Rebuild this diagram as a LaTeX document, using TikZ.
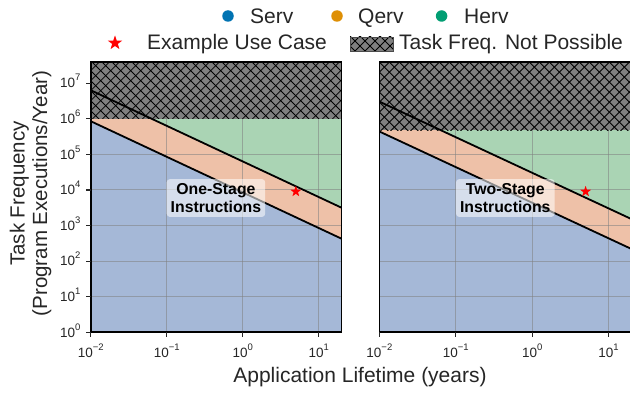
\documentclass[tikz,border=0pt]{standalone}
\usepackage{fontspec}
\setmainfont{Liberation Sans}
\usetikzlibrary{shapes.geometric}
\definecolor{fblue}{HTML}{A5B8D7}
\definecolor{forange}{HTML}{EEC1A8}
\definecolor{fgreen}{HTML}{AAD4B4}
\definecolor{cserv}{HTML}{0173B2}
\definecolor{cqerv}{HTML}{DE8F05}
\definecolor{cherv}{HTML}{029E73}
\definecolor{txt}{HTML}{262626}
\definecolor{hatchgray}{HTML}{808080}
\newcommand{\tenpow}[1]{10\raisebox{7pt}{\fontsize{9.5}{10}\selectfont #1}}
\tikzset{
  gridline/.style={line width=1pt, black!50, opacity=0.55},
  hatchline/.style={line width=0.8pt, black},
  framebox/.style={line width=1.8pt, black},
  boundline/.style={line width=1.8pt, black},
  tickmark/.style={line width=1.2pt, black!85},
  ticklab/.style={font=\fontsize{13.5}{15}\selectfont, text=txt, inner sep=0pt},
  lgtext/.style={font=\fontsize{21}{24}\selectfont, text=txt, inner sep=0pt, anchor=base west},
  lgdot/.style={circle, minimum size=11.5pt, inner sep=0pt, draw=none},
  starmark/.style={star, star points=5, star point ratio=2.5, fill=red, draw=none, inner sep=0pt},
  labelbox/.style={fill=white, fill opacity=0.55, text opacity=1, rounded corners=3pt,
    inner xsep=4pt, inner ysep=4pt, align=center,
    font=\bfseries\fontsize{15.8}{18.5}\selectfont, text=black},
}
% #1 xshift, #2 xscale, #3 upper intercept, #4 lower intercept, #5 hatch bottom, #6 label, #7 prefix
\newcommand{\drawpanel}[7]{%
\begin{scope}[shift={(#1,59.7)}, x=#2pt, y=35.6pt]
  \fill[fgreen] (0,0) rectangle (3.301,7.584);
  \fill[forange] (0,0) -- (0,#3) -- (3.301,{#3-3.301}) -- (3.301,0) -- cycle;
  \fill[fblue] (0,0) -- (0,#4) -- (3.301,{#4-3.301}) -- (3.301,0) -- cycle;
  \foreach \u in {1,2,3} \draw[gridline] (\u,0) -- (\u,7.584);
  \foreach \v in {1,...,7} \draw[gridline] (0,\v) -- (3.301,\v);
  \fill[hatchgray] (0,#5) rectangle (3.301,7.584);
  \begin{scope}
    \clip (0,#5) rectangle (3.301,7.584);
    \foreach \i in {-90,-80,...,350} {
      \draw[hatchline] (0,#5) ++(\i pt,-2pt) -- ++(80pt,80pt);
      \draw[hatchline] (0,#5) ++(\i pt,-2pt) -- ++(-80pt,80pt);
    }
  \end{scope}
  \coordinate (#7u0) at (0,#3);
  \coordinate (#7u1) at (3.301,{#3-3.301});
  \coordinate (#7l0) at (0,#4);
  \coordinate (#7l1) at (3.301,{#4-3.301});
  \draw[boundline] (#7u0) -- (#7u1);
  \draw[boundline] (#7l0) -- (#7l1);
  \node[starmark, minimum size=11.5pt] (#7star) at (2.699,3.954) {};
  \node[labelbox] (#7lab) at (1.648,3.772) {#6};
  \draw[framebox] (0,0) rectangle (3.301,7.584);
  \foreach \u/\e in {0/−2,1/−1,2/0,3/1} {
    \draw[tickmark] (\u,0) -- ++(0,-5pt);
    \node[ticklab, anchor=base, yshift=-25pt] (#7x\u) at (\u,0) {\tenpow{\e}};
  }
\end{scope}}
\begin{document}
\begin{tikzpicture}[x=1pt,y=1pt]
\useasboundingbox (0,0) rectangle (630,392);
\fill[white] (0,0) rectangle (630,392);
% panels
\drawpanel{90.7}{76.0}{6.8}{5.93}{6}{One-Stage\\Instructions}{L}
\drawpanel{379.4}{76.4}{6.48}{5.64}{5.68}{Two-Stage\\Instructions}{R}
% y ticks on left panel
\begin{scope}[shift={(90.7,59.7)}, x=76.0pt, y=35.6pt]
  \foreach \v in {0,...,7} {
    \draw[tickmark] (0,\v) -- ++(-5pt,0);
    \node[ticklab, anchor=base east, xshift=-10pt, yshift=-4.8pt] (yt\v) at (0,\v) {\tenpow{\v}};
  }
\end{scope}
% axis labels
\node[font=\fontsize{21}{24}\selectfont, text=txt, inner sep=0pt, anchor=base] (xlabel) at (360,9.3) {Application Lifetime (years)};
\node[font=\fontsize{20.5}{22.5}\selectfont, text=txt, inner sep=0pt, align=center, rotate=90] (ylabel) at (30.5,198.5) {Task Frequency\\(Program Executions/Year)};
% legend
\node[lgdot, fill=cserv] (dserv) at (228,376) {};
\node[lgtext] (tserv) at (250,368) {Serv};
\node[lgdot, fill=cqerv] (dqerv) at (337,376) {};
\node[lgtext] (tqerv) at (358,368) {Qerv};
\node[lgdot, fill=cherv] (dherv) at (441.6,376) {};
\node[lgtext] (therv) at (464,368) {Herv};
\node[starmark, minimum size=15pt] (lstar) at (115,349) {};
\node[lgtext] (tstar) at (147,342) {Example Use Case};
\fill[hatchgray] (350,341) rectangle (393,355);
\begin{scope}
  \clip (350,341) rectangle (393,355);
  \foreach \i in {330,340,...,420} {
    \draw[hatchline] (\i,336) -- ++(25,25);
    \draw[hatchline] (\i,336) -- ++(-25,25);
  }
\end{scope}
\draw[line width=0.6pt, black!70] (350,341) rectangle (393,355);
\node[lgtext] (thatch) at (399,342) {Task Freq. Not Possible};
\end{tikzpicture}
\end{document}
